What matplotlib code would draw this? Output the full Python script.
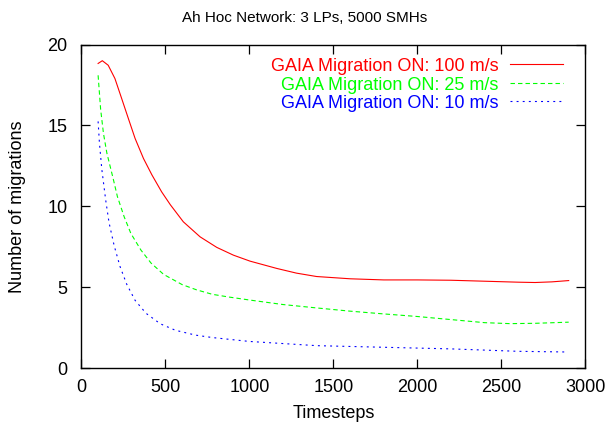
import matplotlib
matplotlib.use("Agg")
import matplotlib.pyplot as plt
from matplotlib.lines import Line2D

plt.rcParams['font.family'] = ['Liberation Sans', 'DejaVu Sans']
plt.rcParams['lines.scale_dashes'] = False

title = "Ah Hoc Network: 3 LPs, 5000 SMHs"
xlabel = "Timesteps"
ylabel = "Number of migrations"

labels = ["GAIA Migration ON: 100 m/s", "GAIA Migration ON: 25 m/s", "GAIA Migration ON: 10 m/s"]
colors = ["#ff0000", "#00ff00", "#0000ff"]

x_100 = [100, 125, 160, 200, 240, 280, 320, 370, 420, 478, 530, 607, 707, 806, 905, 1004,
         1163, 1280, 1400, 1600, 1800, 2000, 2200, 2400, 2600, 2700, 2800, 2900]
y_100 = [18.83, 19.0, 18.72, 17.9, 16.67, 15.43, 14.2, 12.96, 11.95, 10.9, 10.1, 9.05, 8.12, 7.47, 6.99, 6.62,
         6.17, 5.88, 5.67, 5.53, 5.46, 5.46, 5.44, 5.38, 5.32, 5.30, 5.34, 5.42]

x_25 = [100, 115, 132, 152, 190, 215, 255, 295, 355, 415, 490, 600, 685, 780, 880, 1000,
        1200, 1400, 1600, 1800, 2000, 2200, 2400, 2550, 2700, 2900]
y_25 = [18.1, 16.0, 14.5, 13.3, 11.7, 10.6, 9.36, 8.33, 7.3, 6.5, 5.8, 5.17, 4.85, 4.57, 4.40, 4.22,
        3.94, 3.73, 3.53, 3.36, 3.20, 3.01, 2.82, 2.76, 2.78, 2.85]

x_10 = [100, 108, 122, 145, 165, 195, 230, 270, 320, 385, 470, 560, 680, 780, 1000,
        1400, 1800, 2200, 2600, 2880]
y_10 = [15.25, 13.9, 12.3, 10.4, 9.0, 7.6, 6.3, 5.2, 4.2, 3.4, 2.75, 2.35, 2.05, 1.9, 1.66,
        1.40, 1.30, 1.20, 1.05, 1.01]

xticks = [0, 500, 1000, 1500, 2000, 2500, 3000]
yticks = [0, 5, 10, 15, 20]

styles = [dict(linestyle='-'),
          dict(linestyle=(0, (3.2, 2.2))),
          dict(linestyle=(0, (1.4, 3.0)))]

fig = plt.figure(figsize=(6.09, 4.26), dpi=100)
ax = fig.add_axes([0.1335, 0.1354, 0.8279, 0.7601])

series = [(x_100, y_100), (x_25, y_25), (x_10, y_10)]
for (xs, ys), c, st in zip(series, colors, styles):
    ax.plot(xs, ys, color=c, linewidth=0.8, **st)

ax.set_xlim(0, 3000)
ax.set_ylim(0, 20)
ax.set_xticks(xticks)
ax.set_yticks(yticks)
ax.tick_params(direction='in', length=6.5, width=0.9, top=True, right=True,
               labelsize=13, colors='black')
ax.tick_params(axis='x', pad=8)
ax.tick_params(axis='y', pad=10)
for s in ax.spines.values():
    s.set_linewidth(1.0)

ax.set_xlabel(xlabel, fontsize=13, labelpad=6)
ax.set_ylabel(ylabel, fontsize=13, labelpad=15)
fig.text(0.5, 0.957, title, ha='center', va='center', fontsize=11)

# legend (text right-aligned, sample on the right)
row_y = [0.939, 0.881, 0.825]
for lab, c, st, yy in zip(labels, colors, styles, row_y):
    ax.text(0.828, yy - 0.020, lab, transform=ax.transAxes, ha='right', va='baseline',
            fontsize=13, color=c)
    ax.add_line(Line2D([0.851, 0.956], [yy, yy], transform=ax.transAxes,
                       color=c, linewidth=0.8, **st))

fig.savefig("out.png", dpi=100)
